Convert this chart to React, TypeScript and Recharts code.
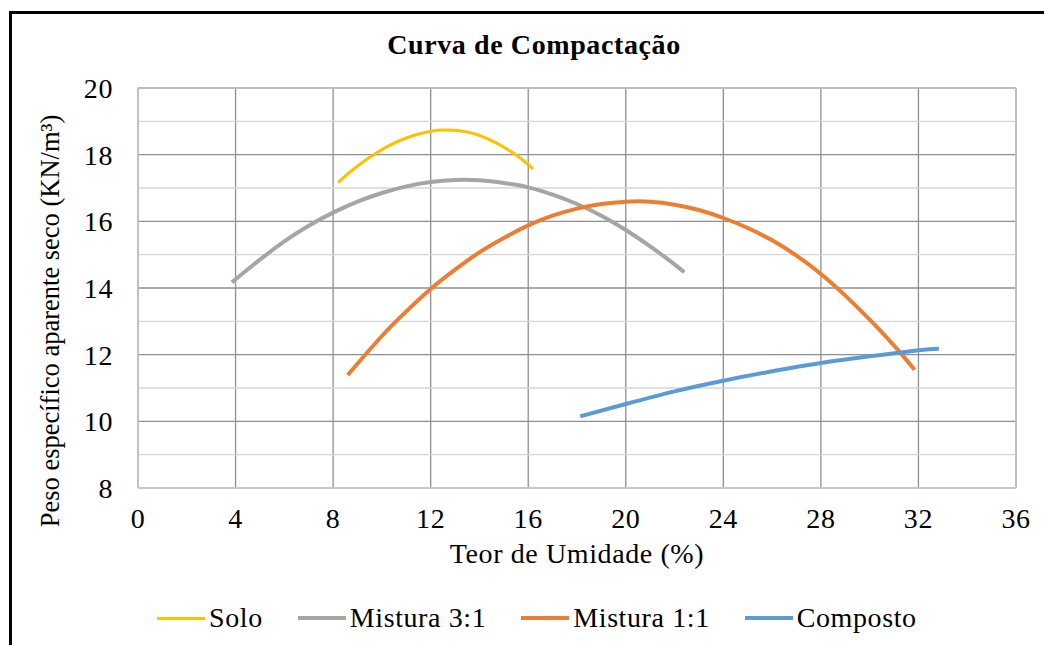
import { LineChart, Line, XAxis, YAxis, CartesianGrid, ReferenceLine } from "recharts";

const soloX = [8.2, 9, 10, 11, 12, 12.6, 13.5, 14.5, 15.5, 16.2];
const soloY = [17.16, 17.66, 18.15, 18.5, 18.7, 18.74, 18.68, 18.42, 17.99, 17.57];

const mistura31X = [3.85, 5, 6, 7, 8, 9, 10, 11, 12, 13, 14, 15, 16, 17, 18, 19, 20, 21, 22, 22.4];
const mistura31Y = [14.17, 14.85, 15.4, 15.87, 16.26, 16.59, 16.85, 17.05, 17.18, 17.24, 17.23, 17.15, 17.02, 16.8, 16.52, 16.17, 15.74, 15.25, 14.71, 14.47];

const mistura11X = [8.6, 10, 11, 12, 13, 14, 15, 16, 17, 18, 19, 20, 21, 22, 23, 24, 25, 26, 27, 28, 29, 30, 31, 31.84];
const mistura11Y = [11.39, 12.56, 13.3, 13.97, 14.55, 15.07, 15.5, 15.88, 16.17, 16.38, 16.52, 16.59, 16.59, 16.5, 16.34, 16.1, 15.8, 15.43, 14.97, 14.42, 13.77, 13.05, 12.27, 11.55];

const compostoX = [18.13, 20, 22, 24, 26, 28, 30, 32, 32.84];
const compostoY = [10.15, 10.52, 10.9, 11.22, 11.5, 11.75, 11.95, 12.13, 12.18];

const xTicks = [0, 4, 8, 12, 16, 20, 24, 28, 32, 36];
const yTicks = [8, 10, 12, 14, 16, 18, 20];
const yMinor = [9, 11, 13, 15, 17, 19];

const toPoints = (xs: number[], ys: number[]) => xs.map((x, i) => ({ x, y: ys[i] }));

const series = [
  { name: "Solo", color: "#FFC000", width: 3, data: toPoints(soloX, soloY) },
  { name: "Mistura 3:1", color: "#A5A5A5", width: 4, data: toPoints(mistura31X, mistura31Y) },
  { name: "Mistura 1:1", color: "#ED7D31", width: 4, data: toPoints(mistura11X, mistura11Y) },
  { name: "Composto", color: "#5B9BD5", width: 4, data: toPoints(compostoX, compostoY) },
];

const font = "Liberation Serif, DejaVu Serif";
const spacing = 0.6;
const tickStyle = { fontSize: 28, fill: "#000", fontFamily: font, letterSpacing: spacing };

export default function App() {
  return (
    <div style={{ position: "absolute", left: 0, top: 0, width: 1044, height: 645, background: "#fff", overflow: "hidden", fontFamily: font }}>
      <div style={{ position: "absolute", left: 9, top: 11, width: 1100, height: 700, borderTop: "3px solid #000", borderLeft: "3px solid #000" }} />
      <div style={{ position: "absolute", left: 0, width: 1068, top: 31, textAlign: "center", fontSize: 28, lineHeight: "28px", fontWeight: "bold", letterSpacing: spacing }}>
        Curva de Compactação
      </div>
      <LineChart width={1044} height={645} margin={{ top: 88, right: 28, bottom: 117, left: 78 }} style={{ position: "absolute", left: 0, top: 0 }}>
        <CartesianGrid stroke="#8f8f8f" strokeWidth={1.3} />
        {yMinor.map((v) => (
          <ReferenceLine key={v} y={v} stroke="#d6d6d6" strokeWidth={1.3} />
        ))}
        <ReferenceLine x={0} stroke="#c4c4c4" strokeWidth={1.5} />
        <ReferenceLine x={36} stroke="#c4c4c4" strokeWidth={1.5} />
        <ReferenceLine y={8} stroke="#d0d0d0" strokeWidth={1.5} />
        <ReferenceLine y={20} stroke="#c4c4c4" strokeWidth={1.5} />
        <XAxis
          type="number"
          dataKey="x"
          domain={[0, 36]}
          ticks={xTicks}
          height={40}
          axisLine={false}
          tickLine={false}
          tickSize={0}
          tickMargin={20}
          tick={tickStyle}
          allowDuplicatedCategory={false}
          label={{
            content: () => (
              <text x={577} y={563} textAnchor="middle" fontSize={28} fontFamily={font} letterSpacing={spacing} fill="#000">
                Teor de Umidade (%)
              </text>
            ),
          }}
        />
        <YAxis
          type="number"
          dataKey="y"
          domain={[8, 20]}
          ticks={yTicks}
          width={60}
          axisLine={false}
          tickLine={false}
          tickSize={0}
          tickMargin={25}
          tick={tickStyle}
          label={{
            content: () => (
              <text transform="translate(59,321) rotate(-90)" textAnchor="middle" fontSize={26.5} fontFamily={font} fill="#000">
                Peso específico aparente seco (KN/m³)
              </text>
            ),
          }}
        />
        {series.map((s) => (
          <Line
            key={s.name}
            data={s.data}
            dataKey="y"
            name={s.name}
            type="natural"
            stroke={s.color}
            strokeWidth={s.width}
            dot={false}
            activeDot={false}
            isAnimationActive={false}
          />
        ))}
      </LineChart>
      <div style={{ position: "absolute", left: 157, top: 602, display: "flex", alignItems: "center", gap: 35, fontSize: 28, lineHeight: "32px", letterSpacing: spacing }}>
        {series.map((s) => (
          <div key={s.name} style={{ display: "flex", alignItems: "center" }}>
            <div style={{ width: 48, height: s.width, background: s.color, marginRight: 4 }} />
            <span>{s.name}</span>
          </div>
        ))}
      </div>
    </div>
  );
}
